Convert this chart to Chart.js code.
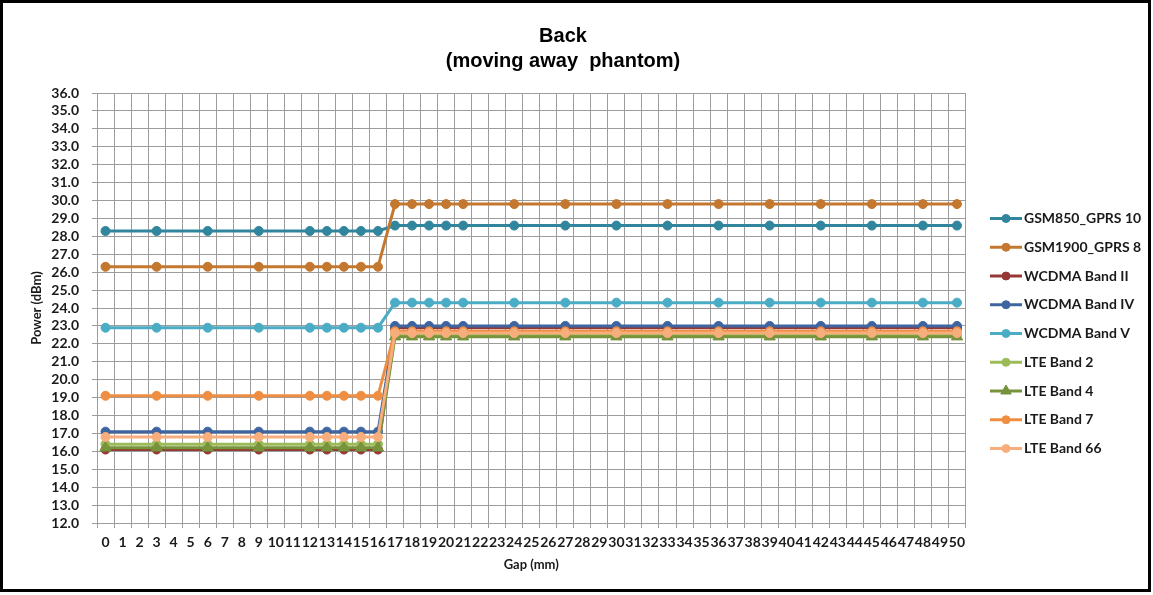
<!DOCTYPE html>
<html>
<head>
<meta charset="utf-8">
<title>Back (moving away phantom)</title>
<script src="https://cdn.jsdelivr.net/npm/chart.js@4.4.1/dist/chart.umd.min.js"></script>
<style>
  html, body { margin: 0; padding: 0; background: #fff; }
  #frame { position: absolute; left: 0; top: 0; width: 1145px; height: 586px; border: 3px solid #000; background: #fff; }
  canvas { display: block; }
</style>
</head>
<body>
<div id="frame"><canvas id="chart" width="1145" height="586"></canvas></div>
<script>
// Category axis: every gap value in mm
const gapLabels = ['0','1','2','3','4','5','6','7','8','9','10','11','12','13','14','15','16','17','18','19','20',
  '21','22','23','24','25','26','27','28','29','30','31','32','33','34','35','36','37','38','39','40',
  '41','42','43','44','45','46','47','48','49','50'];

// Gaps at which power was measured
const measuredGaps = ['0','3','6','9','12','13','14','15','16','17','18','19','20','21','24','27','30','33','36','39','42','45','48','50'];

// Measured power (dBm) per band, one value per measured gap
const gsm850Gprs10   = [28.3,28.3,28.3,28.3,28.3,28.3,28.3,28.3,28.3,28.6,28.6,28.6,28.6,28.6,28.6,28.6,28.6,28.6,28.6,28.6,28.6,28.6,28.6,28.6];
const gsm1900Gprs8   = [26.3,26.3,26.3,26.3,26.3,26.3,26.3,26.3,26.3,29.8,29.8,29.8,29.8,29.8,29.8,29.8,29.8,29.8,29.8,29.8,29.8,29.8,29.8,29.8];
const wcdmaBand2     = [16.1,16.1,16.1,16.1,16.1,16.1,16.1,16.1,16.1,22.9,22.9,22.9,22.9,22.9,22.9,22.9,22.9,22.9,22.9,22.9,22.9,22.9,22.9,22.9];
const wcdmaBand4     = [17.1,17.1,17.1,17.1,17.1,17.1,17.1,17.1,17.1,23.0,23.0,23.0,23.0,23.0,23.0,23.0,23.0,23.0,23.0,23.0,23.0,23.0,23.0,23.0];
const wcdmaBand5     = [22.9,22.9,22.9,22.9,22.9,22.9,22.9,22.9,22.9,24.3,24.3,24.3,24.3,24.3,24.3,24.3,24.3,24.3,24.3,24.3,24.3,24.3,24.3,24.3];
const lteBand2       = [16.4,16.4,16.4,16.4,16.4,16.4,16.4,16.4,16.4,22.5,22.5,22.5,22.5,22.5,22.5,22.5,22.5,22.5,22.5,22.5,22.5,22.5,22.5,22.5];
const lteBand4       = [16.2,16.2,16.2,16.2,16.2,16.2,16.2,16.2,16.2,22.4,22.4,22.4,22.4,22.4,22.4,22.4,22.4,22.4,22.4,22.4,22.4,22.4,22.4,22.4];
const lteBand7       = [19.1,19.1,19.1,19.1,19.1,19.1,19.1,19.1,19.1,22.7,22.7,22.7,22.7,22.7,22.7,22.7,22.7,22.7,22.7,22.7,22.7,22.7,22.7,22.7];
const lteBand66      = [16.8,16.8,16.8,16.8,16.8,16.8,16.8,16.8,16.8,22.6,22.6,22.6,22.6,22.6,22.6,22.6,22.6,22.6,22.6,22.6,22.6,22.6,22.6,22.6];

const seriesNames = ['GSM850_GPRS 10','GSM1900_GPRS 8','WCDMA Band II','WCDMA Band IV','WCDMA Band V','LTE Band 2','LTE Band 4','LTE Band 7','LTE Band 66'];
const seriesValues = [gsm850Gprs10, gsm1900Gprs8, wcdmaBand2, wcdmaBand4, wcdmaBand5, lteBand2, lteBand4, lteBand7, lteBand66];
const seriesColors = ['#31859C','#C4772F','#953735','#3E65A0','#4BACC6','#9BBB59','#77933C','#EF8E42','#F7AE7C'];
const seriesMarkers = ['circle','circle','circle','circle','circle','circle','triangle','circle','circle'];

const fontFamily = 'Lato, "DejaVu Sans", sans-serif';
const labelFont = { family: fontFamily, size: 14, weight: 'bold' };
const axisTitleFont = { family: fontFamily, size: 13, weight: 'bold' };
const textColor = '#1a1a1a';
const gridColor = '#9c9c9c';

const datasets = seriesNames.map((name, i) => ({
  label: name,
  data: measuredGaps.map((g, j) => ({ x: g, y: seriesValues[i][j] })),
  borderColor: seriesColors[i],
  backgroundColor: seriesColors[i],
  pointBackgroundColor: seriesColors[i],
  pointBorderColor: seriesColors[i],
  borderWidth: 3,
  pointStyle: seriesMarkers[i],
  pointRadius: seriesMarkers[i] === 'triangle' ? 6.5 : 4.5,
  pointBorderWidth: 1,
  tension: 0,
  order: -i          // later series are painted on top
}));

// Legend drawn as line + marker samples to the right of the plot
const lineLegend = {
  id: 'lineLegend',
  afterDraw(chart, args, opts) {
    const { ctx, chartArea } = chart;
    const x0 = chartArea.right + opts.offsetX;
    ctx.save();
    chart.data.datasets.forEach((ds, i) => {
      const y = chartArea.top + opts.offsetY + i * opts.spacing;
      ctx.strokeStyle = ds.borderColor;
      ctx.lineWidth = ds.borderWidth;
      ctx.beginPath();
      ctx.moveTo(x0, y);
      ctx.lineTo(x0 + opts.lineLength, y);
      ctx.stroke();
      ctx.fillStyle = ds.pointBackgroundColor;
      ctx.strokeStyle = ds.pointBorderColor;
      ctx.lineWidth = 1;
      Chart.helpers.drawPoint(ctx, {
        pointStyle: ds.pointStyle,
        radius: ds.pointStyle === 'triangle' ? 6 : 4,
        rotation: 0,
        borderWidth: 1
      }, x0 + opts.lineLength / 2, y);
      ctx.fillStyle = textColor;
      ctx.font = `${labelFont.weight} ${labelFont.size}px ${labelFont.family}`;
      ctx.textAlign = 'left';
      ctx.textBaseline = 'middle';
      ctx.fillText(ds.label, x0 + opts.lineLength + 2, y);
    });
    ctx.restore();
  }
};

new Chart(document.getElementById('chart'), {
  type: 'line',
  data: { labels: gapLabels, datasets },
  plugins: [lineLegend],
  options: {
    responsive: false,
    animation: false,
    layout: { padding: { left: 0, right: 25, top: 0, bottom: 0 } },
    plugins: {
      legend: { display: false },
      tooltip: { enabled: false },
      title: {
        display: true,
        text: ['Back', '(moving away  phantom)'],
        color: '#000',
        font: { family: '"Liberation Sans", Arial, sans-serif', size: 20, weight: 'bold', lineHeight: 1.25 },
        padding: { top: 21, bottom: 19 }
      },
      lineLegend: { offsetX: 24.5, offsetY: 125.5, spacing: 28.75, lineLength: 32 }
    },
    scales: {
      x: {
        type: 'category',
        offset: true,
        grid: { offset: true, color: gridColor, tickLength: 5, lineWidth: 1 },
        border: { color: gridColor },
        ticks: { autoSkip: false, maxRotation: 0, minRotation: 0, padding: 6, font: labelFont, color: textColor },
        title: { display: true, text: 'Gap (mm)', color: textColor, font: axisTitleFont, padding: { top: 0, bottom: 16 } },
        afterFit(scale) { scale.height = 66; }
      },
      y: {
        min: 12,
        max: 36,
        grid: { color: gridColor, tickLength: 5, lineWidth: 1 },
        border: { color: gridColor },
        ticks: { stepSize: 1, autoSkip: false, padding: 13, font: labelFont, color: textColor, callback: v => Number(v).toFixed(1) },
        title: { display: true, text: 'Power (dBm)', color: textColor, font: axisTitleFont, padding: { top: 26, bottom: 0 } },
        afterFit(scale) { scale.width = 94; }
      },
      legendSpace: {
        type: 'linear',
        position: 'right',
        display: true,
        grid: { display: false },
        border: { display: false },
        ticks: { display: false },
        afterFit(scale) { scale.width = 157.5; }
      }
    }
  }
});
</script>
</body>
</html>
